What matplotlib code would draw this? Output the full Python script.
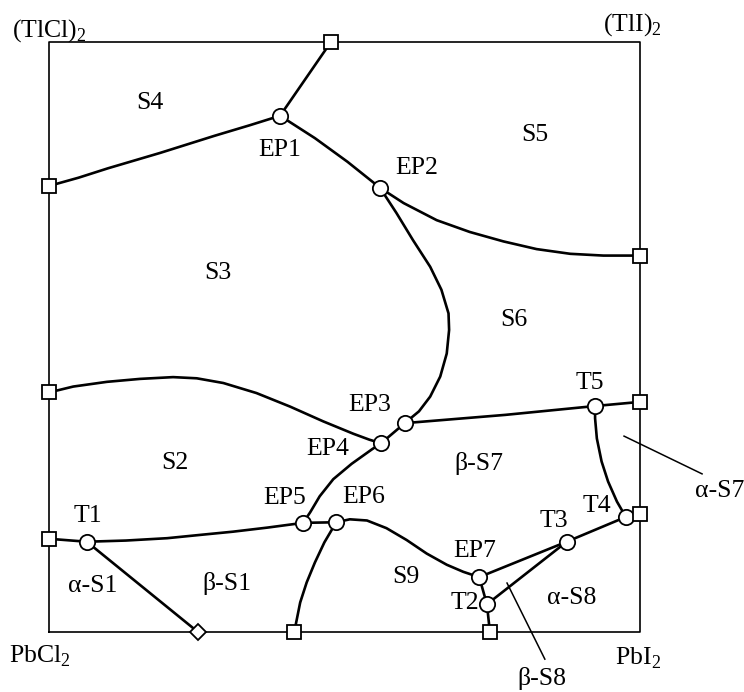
import matplotlib
matplotlib.use("Agg")
import matplotlib.pyplot as plt

plt.rcParams["font.family"] = ["Liberation Serif", "DejaVu Serif"]
plt.rcParams["mathtext.fontset"] = "custom"
plt.rcParams["mathtext.rm"] = "Liberation Serif"

# boundary curves (x, y) in composition square 0..100
edge_top_ep1 = [(47.7, 100.0), (39.1, 87.5)]
edge_left_ep1 = [(0.0, 75.6), (5.0, 77.0), (10.0, 78.6), (18.8, 81.2), (28.0, 84.1),
                 (34.0, 85.9), (39.1, 87.5)]
ep1_ep2 = [(39.1, 87.5), (45.0, 83.7), (50.5, 79.7), (56.0, 75.3)]
ep2_right = [(56.0, 75.3), (60.0, 72.7), (65.6, 69.8), (71.2, 67.8), (76.9, 66.2),
             (82.5, 64.9), (88.2, 64.1), (93.8, 63.8), (100.0, 63.8)]
ep2_ep3 = [(56.0, 75.3), (58.8, 71.0), (61.6, 66.4), (64.5, 61.9), (66.4, 58.0),
           (67.6, 54.0), (67.7, 51.2), (67.3, 47.2), (66.2, 43.3), (64.5, 39.9),
           (62.6, 37.4), (60.2, 35.4)]
left_ep4 = [(0.0, 40.6), (4.1, 41.6), (9.8, 42.4), (15.4, 42.9), (21.0, 43.2),
            (25.0, 43.0), (29.5, 42.2), (35.1, 40.5), (40.8, 38.2), (46.4, 35.7),
            (51.5, 33.6), (54.2, 32.6), (56.2, 32.0)]
ep3_ep4 = [(60.2, 35.4), (56.2, 32.0)]
ep3_t5 = [(60.2, 35.4), (77.2, 36.8), (92.4, 38.3)]
t5_right = [(92.4, 38.3), (100.0, 39.0)]
t5_t4 = [(92.4, 38.3), (92.4, 36.2), (92.7, 32.8), (93.5, 28.9), (94.6, 25.5),
         (96.1, 22.1), (97.6, 19.5)]
t4_right = [(97.6, 19.5), (100.0, 20.0)]
ep4_ep5 = [(56.2, 32.0), (54.7, 31.0), (51.2, 28.5), (48.1, 25.9), (45.8, 23.0),
           (44.2, 20.3), (43.0, 18.5)]
left_t1 = [(0.0, 15.8), (6.4, 15.3)]
t1_ep5 = [(6.4, 15.3), (13.0, 15.5), (20.0, 15.9), (26.0, 16.5), (31.1, 17.0),
          (37.0, 17.7), (43.0, 18.5)]
ep5_ep6 = [(43.0, 18.5), (48.6, 18.6)]
t1_bottom = [(6.4, 15.3), (25.2, 0.0)]
ep6_bottom = [(48.6, 18.6), (46.6, 15.2), (45.0, 11.8), (43.6, 8.4), (42.5, 5.0), (41.5, 0.0)]
ep6_ep7 = [(48.6, 18.6), (50.9, 19.1), (53.8, 18.9), (57.1, 17.6), (60.5, 15.6),
           (63.9, 13.3), (67.3, 11.4), (70.1, 10.2), (72.8, 9.3)]
ep7_t3 = [(72.8, 9.3), (87.6, 15.3)]
ep7_t2 = [(72.8, 9.3), (74.1, 4.7)]
t2_t3 = [(74.1, 4.7), (87.6, 15.3)]
t3_t4 = [(87.6, 15.3), (97.6, 19.5)]
t2_bottom = [(74.1, 4.7), (74.6, 0.0)]

curves = [edge_top_ep1, edge_left_ep1, ep1_ep2, ep2_right, ep2_ep3, left_ep4,
          ep3_ep4, ep3_t5, t5_right, t5_t4, t4_right, ep4_ep5, left_t1, t1_ep5,
          ep5_ep6, t1_bottom, ep6_bottom, ep6_ep7, ep7_t3, ep7_t2, t2_t3, t3_t4,
          t2_bottom]

# invariant points
circle_x = [39.1, 56.0, 60.2, 56.2, 43.0, 48.6, 72.8, 6.4, 74.1, 87.6, 97.6, 92.4]
circle_y = [87.5, 75.3, 35.4, 32.0, 18.5, 18.6, 9.3, 15.3, 4.7, 15.3, 19.5, 38.3]
square_x = [47.7, 0.0, 100.0, 0.0, 100.0, 100.0, 0.0, 41.5, 74.6]
square_y = [100.0, 75.6, 63.8, 40.6, 39.0, 20.0, 15.8, 0.0, 0.0]
diamond_x = [25.2]
diamond_y = [0.0]

# labels
labels = ["S4", "S5", "S3", "S6", "S2", "\u03b2-S7", "\u03b1-S1", "\u03b2-S1", "S9", "\u03b1-S8",
          "EP1", "EP2", "EP3", "EP4", "EP5", "EP6", "EP7",
          "T1", "T2", "T3", "T4", "T5", "\u03b1-S7", "\u03b2-S8"]
label_x = [17.1, 82.2, 28.6, 78.7, 21.3, 72.8, 7.4, 30.1, 60.4, 88.5,
           39.1, 62.3, 54.3, 47.2, 39.9, 53.3, 72.1,
           6.6, 70.4, 85.4, 92.7, 91.5, 113.4, 83.4]
label_y = [89.7, 84.2, 60.8, 52.9, 28.6, 28.6, 7.8, 8.3, 9.3, 5.8,
           81.7, 78.6, 38.5, 31.0, 22.7, 22.9, 13.7,
           19.7, 4.9, 18.8, 21.4, 42.2, 23.9, -7.8]
leaders = [[(97.3, 33.2), (110.5, 26.8)], [(77.5, 8.3), (83.9, -4.6)]]

corner_labels = ["(TlCl)$_2$", "(TlI)$_2$", "PbCl$_2$", "PbI$_2$"]
corner_x = [0.0, 98.8, -1.5, 99.7]
corner_y = [102.0, 102.9, -4.1, -4.4]

fig = plt.figure(figsize=(7.44, 6.92), dpi=100)
ax = fig.add_axes([49 / 744, 60 / 692, 591 / 744, 590 / 692])
ax.set_xlim(0, 100)
ax.set_ylim(0, 100)
ax.axis("off")

ax.plot([0, 100, 100, 0, 0], [0, 0, 100, 100, 0], color="black", lw=1.2, clip_on=False)

for c in curves:
    xs = [p[0] for p in c]
    ys = [p[1] for p in c]
    ax.plot(xs, ys, color="black", lw=1.9, solid_joinstyle="round",
            solid_capstyle="round", clip_on=False)

for c in leaders:
    ax.plot([p[0] for p in c], [p[1] for p in c], color="black", lw=1.1, clip_on=False)

ax.plot(circle_x, circle_y, "o", ms=11, mfc="white", mec="black", mew=1.3, clip_on=False, zorder=5)
ax.plot(square_x, square_y, "s", ms=9.5, mfc="white", mec="black", mew=1.3, clip_on=False, zorder=5)
ax.plot(diamond_x, diamond_y, "D", ms=8.5, mfc="white", mec="black", mew=1.3, clip_on=False, zorder=5)

for t, x, y in zip(labels, label_x, label_y):
    ax.text(x, y, t, fontsize=18.5, ha="center", va="center", clip_on=False)

for t, x, y in zip(corner_labels, corner_x, corner_y):
    ax.text(x, y, t, fontsize=18.5, ha="center", va="center", clip_on=False)

fig.savefig("out.png", dpi=100)
